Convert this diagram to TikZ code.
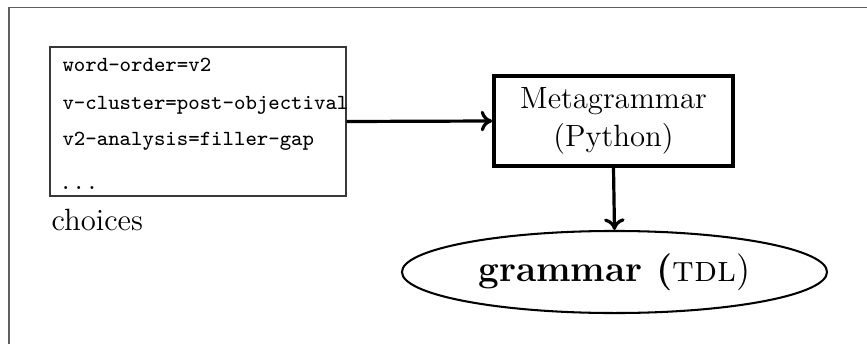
\documentclass[tikz,border=0pt]{standalone}
\usetikzlibrary{arrows.meta,shapes.geometric}
\definecolor{framegray}{RGB}{95,95,95}
\definecolor{boxgray}{RGB}{55,55,55}
\tikzset{
  choicebox/.style={draw=boxgray, line width=0.45pt, rectangle, inner sep=0pt,
    minimum width=115.4pt, minimum height=58.1pt},
  choiceline/.style={anchor=base west, inner sep=0pt, font=\fontsize{8.4pt}{10pt}\selectfont\ttfamily},
  plain/.style={anchor=base west, inner sep=0pt, font=\fontsize{12pt}{14.5pt}\selectfont},
  metabox/.style={draw, line width=1.4pt, rectangle, inner sep=0pt, align=center,
    minimum width=93.2pt, minimum height=35.1pt, font=\fontsize{12pt}{14.8pt}\selectfont},
  outbox/.style={draw, line width=0.8pt, ellipse, inner sep=0pt,
    minimum width=165.8pt, minimum height=32pt, font=\fontsize{14.4pt}{17pt}\selectfont},
  flow/.style={line width=1.25pt, -{To[length=4.5pt,width=8pt]}},
}
\begin{document}
\begin{tikzpicture}[x=0.39pt, y=-0.39pt]
  \useasboundingbox (0,0) rectangle (867,344);
  \clip (0,0) rectangle (867,344);
  % outer frame
  \draw[framegray, line width=0.6pt] (9,400) -- (9,7.5) -- (900,7.5);

  % choices file
  \node[choicebox] (choices) at (198,121.5) {};
  \node[choiceline] (c1) at (62,71) {word-order=v2};
  \node[choiceline] (c2) at (62,109) {v-cluster=post-objectival};
  \node[choiceline] (c3) at (62,145) {v2-analysis=filler-gap};
  \node[plain] (c4) at (61,189) {.\kern1.9pt.\kern1.9pt.};
  \node[plain] (clabel) at (51,230) {choices};

  % metagrammar
  \node[metabox] (meta) at (613.5,121) {Metagrammar\\(Python)};

  % output grammar
  \node[outbox] (gram) at (614.5,272) {\textbf{grammar (}\textsc{tdl})};

  \draw[flow] (choices.east) -- (meta.west);
  \draw[flow] (meta.south) -- (gram.north);
\end{tikzpicture}
\end{document}
